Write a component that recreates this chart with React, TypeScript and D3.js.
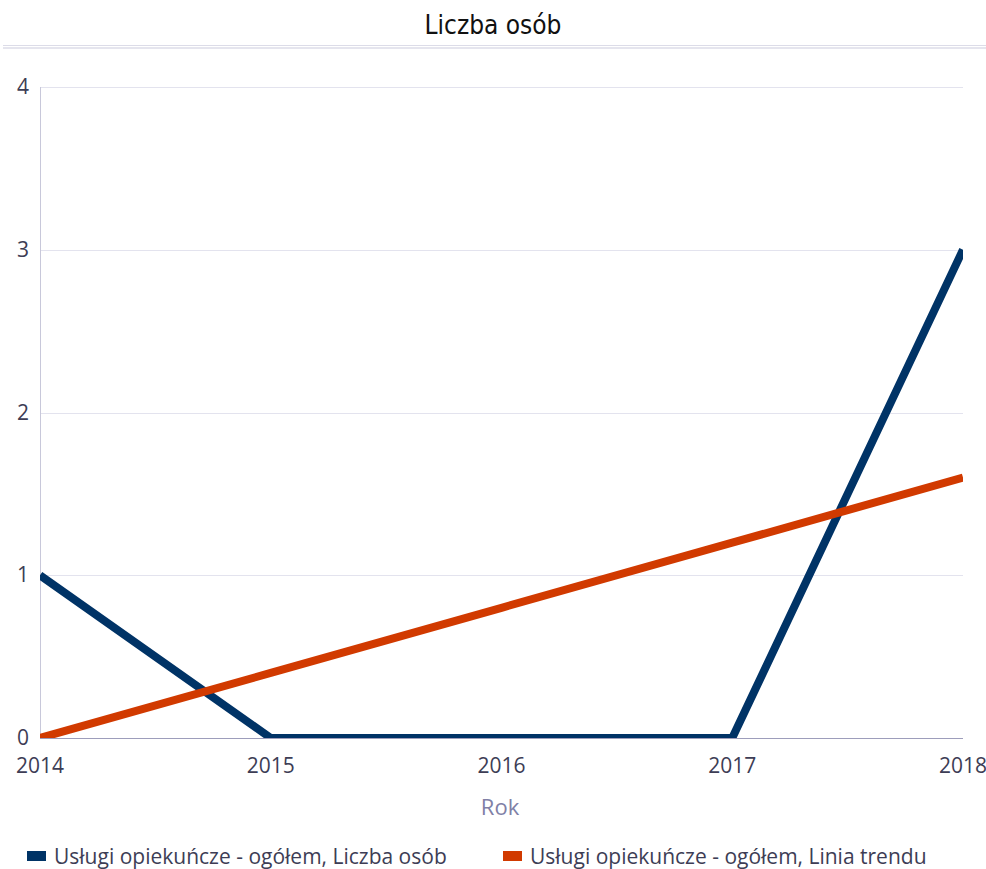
import React, { useEffect, useRef } from 'react';
import * as d3 from 'd3';

const years = [2014, 2015, 2016, 2017, 2018];
const liczbaOsob = [1, 0, 0, 0, 3];
const liniaTrendu = [0, 0.4, 0.8, 1.2, 1.6];
const yTicks = [0, 1, 2, 3, 4];
const seriesNames = [
  'Usługi opiekuńcze - ogółem, Liczba osób',
  'Usługi opiekuńcze - ogółem, Linia trendu',
];
const seriesColors = ['#003366', '#d13a00'];

const W = 986;
const H = 869;

const App: React.FC = () => {
  const svgRef = useRef<SVGSVGElement>(null);

  useEffect(() => {
    if (!svgRef.current) return;
    const svg = d3.select(svgRef.current);
    svg.selectAll('*').remove();

    const left = 40, right = 963, top = 87, bottom = 738;
    const font = '"Open Sans", "Noto Sans", sans-serif';

    const x = d3.scaleLinear().domain([2014, 2018]).range([left, right]);
    const y = d3.scaleLinear().domain([0, 4]).range([bottom, top]);

    // title
    svg.append('text')
      .attr('x', W / 2).attr('y', 34)
      .attr('text-anchor', 'middle')
      .style('font-family', '"DejaVu Sans Condensed", "DejaVu Sans", sans-serif')
      .style('font-stretch', 'condensed')
      .style('font-size', '26px')
      .style('fill', '#111')
      .text('Liczba osób');

    // double line under title
    svg.append('line').attr('x1', 3).attr('x2', W).attr('y1', 45.5).attr('y2', 45.5)
      .attr('stroke', '#dcdce8').attr('stroke-width', 1);
    svg.append('line').attr('x1', 3).attr('x2', W).attr('y1', 48).attr('y2', 48)
      .attr('stroke', '#dcdce8').attr('stroke-width', 1.5);

    // grid
    svg.append('g').selectAll('line').data(yTicks.filter(d => d > 0)).join('line')
      .attr('x1', left).attr('x2', right)
      .attr('y1', d => Math.round(y(d)) + 0.5).attr('y2', d => Math.round(y(d)) + 0.5)
      .attr('stroke', '#e3e3ee');

    // y axis line
    svg.append('line').attr('x1', left + 0.5).attr('x2', left + 0.5)
      .attr('y1', top).attr('y2', bottom)
      .attr('stroke', '#c8c8da');

    // baseline
    svg.append('line').attr('x1', left).attr('x2', right)
      .attr('y1', bottom + 0.5).attr('y2', bottom + 0.5)
      .attr('stroke', '#9d9dbb');

    // y tick labels
    svg.append('g').selectAll('text').data(yTicks).join('text')
      .attr('x', 29).attr('y', d => y(d) + 7)
      .attr('text-anchor', 'end')
      .style('font-family', font).style('font-size', '21px').style('fill', '#3d3d55')
      .text(d => String(d));

    // x tick labels
    svg.append('g').selectAll('text').data(years).join('text')
      .attr('x', d => x(d)).attr('y', 773)
      .attr('text-anchor', 'middle')
      .style('font-family', font).style('font-size', '21px').style('fill', '#3d3d55')
      .text(d => String(d));

    // axis title
    svg.append('text')
      .attr('x', 500).attr('y', 815)
      .attr('text-anchor', 'middle')
      .style('font-family', font).style('font-size', '22px').style('fill', '#8080a6')
      .text('Rok');

    // clip
    svg.append('defs').append('clipPath').attr('id', 'plotClip')
      .append('rect').attr('x', left).attr('y', top - 10)
      .attr('width', right - left).attr('height', bottom - top + 10);

    const line = d3.line<number>()
      .x((_, i) => x(years[i]))
      .y(d => y(d));

    const plot = svg.append('g').attr('clip-path', 'url(#plotClip)');
    [liczbaOsob, liniaTrendu].forEach((vals, i) => {
      plot.append('path')
        .datum(vals)
        .attr('d', line)
        .attr('fill', 'none')
        .attr('stroke', seriesColors[i])
        .attr('stroke-width', 8)
        .attr('stroke-linejoin', 'miter');
    });

    // legend
    const legendX = [27, 503];
    const lg = svg.append('g');
    seriesNames.forEach((name, i) => {
      lg.append('rect')
        .attr('x', legendX[i]).attr('y', 851)
        .attr('width', 19).attr('height', 10)
        .attr('fill', seriesColors[i]);
      lg.append('text')
        .attr('x', legendX[i] + 27).attr('y', 864)
        .style('font-family', font).style('font-size', '21px').style('fill', '#3d3d55')
        .text(name);
    });
  }, []);

  return (
    <svg ref={svgRef} width={W} height={H}
      style={{ position: 'absolute', left: 0, top: 0, background: '#fff' }} />
  );
};

export default App;
